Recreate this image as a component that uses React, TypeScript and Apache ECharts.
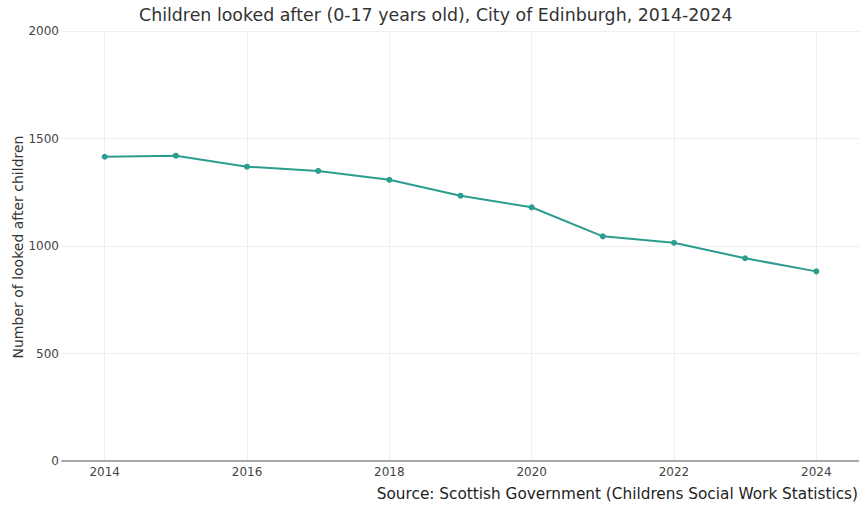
import React, { useEffect, useRef } from "react";
import * as echarts from "echarts";

const years = [2014, 2015, 2016, 2017, 2018, 2019, 2020, 2021, 2022, 2023, 2024];
const lookedAfter = [1415, 1420, 1369, 1349, 1308, 1234, 1180, 1045, 1015, 943, 882];
const xTickYears = [2014, 2016, 2018, 2020, 2022, 2024];
const yTicks = [0, 500, 1000, 1500, 2000];

const FONT = "'DejaVu Sans', Verdana, sans-serif";

export default function App() {
  const ref = useRef<HTMLDivElement>(null);
  useEffect(() => {
    document.body.style.margin = "0";
    if (!ref.current) return;
    const chart = echarts.init(ref.current, null, { renderer: "svg" });
    chart.setOption({
      animation: false,
      backgroundColor: "#ffffff",
      textStyle: { fontFamily: FONT },
      title: {
        text: "Children looked after (0-17 years old), City of Edinburgh, 2014-2024",
        left: 134,
        top: 1,
        textStyle: { fontFamily: FONT, fontSize: 17.4, fontWeight: "normal", color: "#333" },
      },
      grid: { left: 62, right: 0, top: 31, bottom: 47, containLabel: false, outerBoundsMode: "none" },
      xAxis: {
        type: "value",
        min: 2013.4,
        max: 2024.6,
        axisLine: { show: true, onZero: false, lineStyle: { color: "#a8a8a8", width: 2 } },
        axisTick: { show: false, customValues: xTickYears },
        axisLabel: {
          customValues: xTickYears,
          color: "#444",
          fontSize: 12,
          fontFamily: FONT,
          margin: 5,
          formatter: (v: number) => String(v),
        },
        splitLine: { show: true, lineStyle: { color: "#eeeeee", width: 1 } },
      },
      yAxis: {
        type: "value",
        min: yTicks[0],
        max: yTicks[yTicks.length - 1],
        interval: 500,
        axisLine: { show: false },
        axisTick: { show: false },
        axisLabel: { color: "#444", fontSize: 12, fontFamily: FONT, margin: 3, formatter: (v: number) => String(v) },
        splitLine: { show: true, lineStyle: { color: "#eeeeee", width: 1 } },
      },
      series: [
        {
          type: "line",
          data: years.map((y, i) => [y, lookedAfter[i]]),
          symbol: "circle",
          symbolSize: 6,
          itemStyle: { color: "#2a9d8f" },
          lineStyle: { color: "#2a9d8f", width: 2 },
        },
      ],
      graphic: [
        {
          type: "text",
          x: 18,
          y: 247,
          rotation: Math.PI / 2,
          style: {
            text: "Number of looked after children",
            fontFamily: FONT,
            fontSize: 14,
            fill: "#333",
            textAlign: "center",
            textVerticalAlign: "middle",
          },
        },
        {
          type: "text",
          right: 1,
          top: 486,
          style: {
            text: "Source: Scottish Government (Childrens Social Work Statistics)",
            fontFamily: FONT,
            fontSize: 15.3,
            fill: "#222",
          },
        },
      ],
    });
    return () => chart.dispose();
  }, []);
  return <div ref={ref} style={{ width: 859, height: 508 }} />;
}
